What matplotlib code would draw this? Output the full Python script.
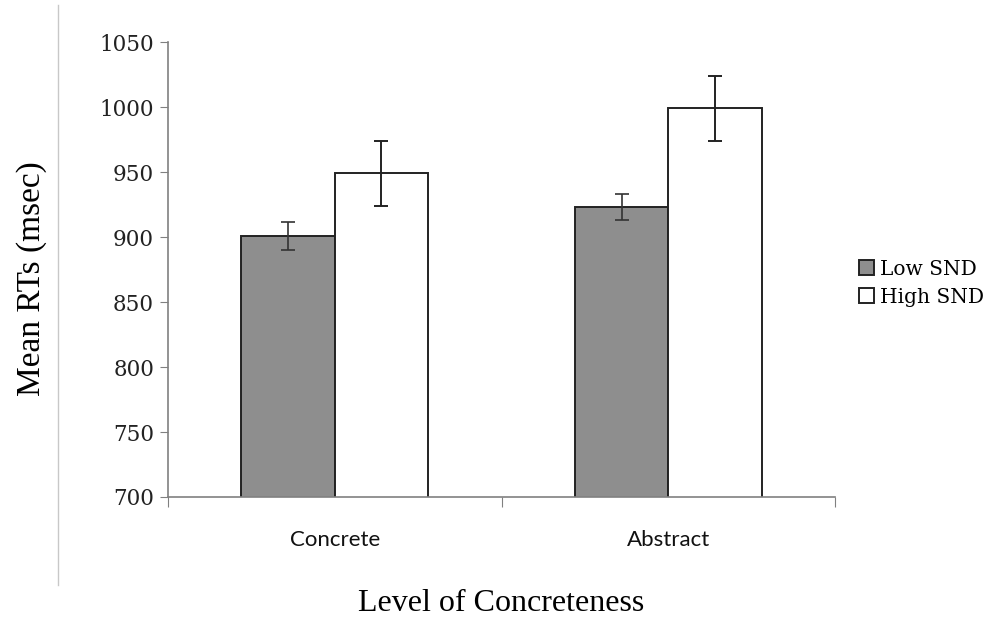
import numpy as np
import matplotlib.pyplot as plt
from matplotlib.lines import Line2D

categories = ['Concrete', 'Abstract']
low_snd = [901, 923]
high_snd = [949, 999]
low_err = [11, 10]
high_err = [25, 25]
series_names = ['Low SND', 'High SND']

fig = plt.figure(figsize=(10, 6.21), dpi=100)
ax = fig.add_axes([0.168, 0.1997, 0.667, 0.7323])

x = np.arange(len(categories)) + 0.5
w = 0.28
ax.bar(x - w/2, low_snd, w, color='#8e8e8e', edgecolor='#222222', linewidth=1.4,
       yerr=low_err, error_kw=dict(ecolor='#333333', elinewidth=1.2, capsize=5, capthick=1.2),
       label=series_names[0], zorder=2)
ax.bar(x + w/2, high_snd, w, color='white', edgecolor='#222222', linewidth=1.4,
       yerr=high_err, error_kw=dict(ecolor='#222222', elinewidth=1.4, capsize=5, capthick=1.4),
       label=series_names[1], zorder=2)

ax.set_xlim(0, 2)
ax.set_ylim(700, 1050)
ax.set_yticks(np.arange(700, 1051, 50))
ax.set_xticks([0, 1, 2])
ax.set_xticklabels([])
ax.set_xticks(x, minor=True)
ax.set_xticklabels(categories, minor=True, fontsize=16, family='Lato', color='#111111')
ax.tick_params(axis='x', which='minor', length=0, pad=24)
ax.tick_params(axis='x', which='major', length=7, color='#808080', direction='out')
ax.tick_params(axis='y', length=6, color='#808080', direction='out', pad=4)
for lab in ax.get_yticklabels():
    lab.set_fontfamily('DejaVu Serif')
    lab.set_fontsize(15.5)
    lab.set_color('#222222')

for s in ['top', 'right']:
    ax.spines[s].set_visible(False)
for s in ['left', 'bottom']:
    ax.spines[s].set_color('#808080')
    ax.spines[s].set_linewidth(1.2)

ax.set_ylabel('Mean RTs (msec)', fontsize=24, family='Liberation Serif')
ax.yaxis.set_label_coords(-0.182, 0.48)
ax.set_xlabel('Level of Concreteness', fontsize=23, family='Liberation Serif', labelpad=28)

ax.legend(loc='center left', bbox_to_anchor=(1.0, 0.47), frameon=False,
          prop={'family': 'DejaVu Serif', 'size': 14.5}, handlelength=0.75, handleheight=0.75,
          handletextpad=0.3, labelspacing=0.45, borderaxespad=0.8)

fig.add_artist(Line2D([0.058, 0.058], [1 - 5/621, 1 - 585/621], color='#c8c8c8', linewidth=1))

fig.savefig('out.png', dpi=100)
